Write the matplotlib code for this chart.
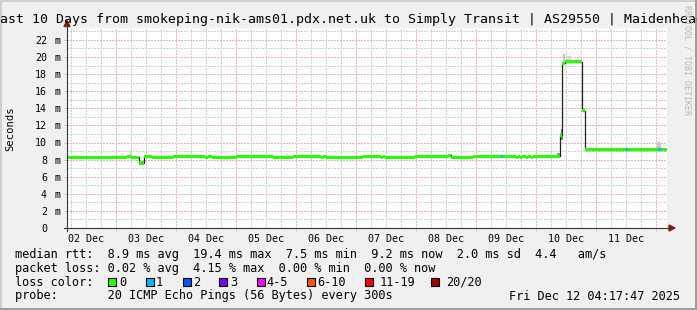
import matplotlib
matplotlib.use('Agg')
import matplotlib.pyplot as plt
import matplotlib.transforms as mtransforms
from matplotlib.patches import Rectangle, Polygon
from matplotlib.lines import Line2D
from matplotlib.ticker import MultipleLocator, FuncFormatter

W, H = 697, 310
MONO = 'DejaVu Sans Mono'
BACK = '#f0f0f0'
SHADEA = '#cfcfcf'
SHADEB = '#9e9e9e'
GRID = '#d0d0d0'
MGRID = '#f0b2b2'
AXIS = '#2c3a36'
ARROW = '#801c1c'

# time axis: hours since 02 Dec 00:00, window is the last 10 days
t_start = 4 + 17 / 60 + 47 / 3600
t_end = t_start + 240

# median rtt as steps: start hour, value (ms), lost pings in that step
seg_start = [4.3, 28.1, 29.9, 33.2, 35.2, 38.4, 46.8, 59.5, 60.8, 62.1,
             71.7, 86.7, 94.7, 105.7, 106.7, 107.7, 122.5, 129.7, 130.6, 131.6,
             143.3, 156.7, 157.7, 166.7, 177.7, 178.5, 184.0, 184.8, 185.6, 186.4,
             187.7, 188.5, 190.0, 190.8, 201.3, 202.1, 203.6, 210.4, 211.5, 227.7,
             228.5, 240.7, 242.0]
seg_ms = [8.28, 8.40, 8.28, 7.60, 8.40, 8.28, 8.40, 8.28, 8.40, 8.28,
          8.40, 8.28, 8.40, 8.28, 8.40, 8.28, 8.40, 8.28, 8.40, 8.28,
          8.40, 8.48, 8.28, 8.40, 8.40, 8.40, 8.28, 8.40, 8.28, 8.40,
          8.28, 8.40, 8.28, 8.40, 10.88, 19.26, 19.42, 13.72, 9.15, 9.15,
          9.15, 9.15, 9.15]
seg_loss = [0, 0, 0, 0, 0, 0, 0, 0, 0, 0,
            0, 0, 0, 0, 0, 0, 0, 0, 0, 0,
            0, 0, 0, 0, 1, 0, 0, 0, 0, 0,
            0, 0, 0, 0, 0, 0, 0, 0, 0, 1,
            0, 1, 0]
seg_last = 244.2

# smoke (spread of the pings) where it shows outside the median band
smoke_t0 = [25.9, 29.4, 91.7, 200.1, 201.7, 202.7, 204.4, 208.0, 235.7, 240.3]
smoke_t1 = [26.8, 30.4, 92.7, 201.3, 202.5, 203.6, 205.7, 210.0, 237.7, 241.7]
smoke_lo = [8.3, 8.3, 8.3, 8.4, 10.3, 19.2, 19.5, 19.4, 9.1, 9.0]
smoke_hi = [8.6, 9.1, 8.7, 8.8, 11.6, 20.4, 20.1, 19.6, 9.3, 10.1]
smoke_shade = ['#d8d8d8', '#cccccc', '#d8d8d8', '#909090', '#7a7a7a',
               '#c8c8c8', '#d4d4d4', '#dcdcdc', '#dcdcdc', '#c8c8c8']

loss_labels = ['0', '1', '2', '3', '4-5', '6-10', '11-19', '20/20']
loss_colors = ['#26ff00', '#00b8ff', '#0059ff', '#7e00ff', '#ff00ff', '#ff5500', '#ff0000', '#a10000']

title = 'Last 10 Days from smokeping-nik-ams01.pdx.net.uk to Simply Transit | AS29550 | Maidenhead'
legend_rows = [
    'median rtt:  8.9 ms avg  19.4 ms max  7.5 ms min  9.2 ms now  2.0 ms sd  4.4   am/s',
    'packet loss: 0.02 % avg  4.15 % max  0.00 % min  0.00 % now',
    'loss color:',
    'probe:       20 ICMP Echo Pings (56 Bytes) every 300s',
]
stamp = 'Fri Dec 12 04:17:47 2025'


def fx(x):
    return x / W


def fy(y):
    return 1 - y / H


fig = plt.figure(figsize=(W / 100, H / 100), dpi=100, facecolor=BACK)
ax = fig.add_axes([67 / W, (H - 228) / H, 600 / W, 200 / H], facecolor='white')
ax.set_xlim(t_start, t_end)
ax.set_ylim(0, 200 / 8.55)
for s in ax.spines.values():
    s.set_visible(False)

# grid
ax.xaxis.set_major_locator(MultipleLocator(24))
ax.xaxis.set_minor_locator(MultipleLocator(6))
ax.yaxis.set_major_locator(MultipleLocator(2))
ax.yaxis.set_minor_locator(MultipleLocator(1))
ax.grid(which='minor', color=GRID, lw=1.0, ls=(0, (1, 1)), antialiased=False)
ax.grid(which='major', color=MGRID, lw=1.0, ls=(0, (1, 1)), antialiased=False)
ax.set_axisbelow(True)

ax.xaxis.set_major_formatter(FuncFormatter(lambda v, p: ''))
ax.xaxis.set_minor_formatter(FuncFormatter(
    lambda v, p: '%02d Dec' % (int(v // 24) + 2) if round(v) % 24 == 12 else ''))
ax.tick_params(axis='x', which='major', length=2.2, width=0.72, color=MGRID)
ax.tick_params(axis='x', which='minor', length=0, pad=4.0, labelsize=7.2)
ax.tick_params(axis='y', which='major', length=2.2, width=0.72, color=MGRID,
               pad=12.2, labelsize=7.2)
ax.tick_params(axis='y', which='minor', length=0)
ax.set_yticks(range(0, 23, 2))
ax.set_yticklabels([str(v) for v in range(0, 23, 2)])
for lab in ax.get_xticklabels(minor=True) + ax.get_yticklabels():
    lab.set_family(MONO)
unit_tr = mtransforms.blended_transform_factory(ax.transAxes, ax.transData)
for v in range(2, 23, 2):
    ax.text(-12.5 / 600, v, 'm', transform=unit_tr, ha='left', va='center_baseline',
            fontsize=7.2, family=MONO, clip_on=False)

# smoke
ax.bar(smoke_t0, [h - l for h, l in zip(smoke_hi, smoke_lo)], bottom=smoke_lo,
       width=[b - a for a, b in zip(smoke_t0, smoke_t1)], align='edge',
       color=smoke_shade, lw=0, zorder=2)

# median line + loss coloured band
ax.step(seg_start + [seg_last], seg_ms + [seg_ms[-1]], where='post',
        color='#202020', lw=0.9, zorder=3)
band = 0.36
widths = [b - a for a, b in zip(seg_start, seg_start[1:] + [seg_last])]
ax.bar(seg_start, band, bottom=[m - band / 2 for m in seg_ms], width=widths,
       align='edge', color=[loss_colors[l] for l in seg_loss], lw=0, zorder=4)

# axes with arrows
fig.add_artist(Line2D([fx(64), fx(670)], [fy(228)] * 2, color=AXIS, lw=0.8))
fig.add_artist(Line2D([fx(67), fx(67)], [fy(231), fy(24)], color=AXIS, lw=0.8))
fig.add_artist(Polygon([(fx(669), fy(225)), (fx(675), fy(228)), (fx(669), fy(231))],
                       closed=True, color=ARROW, transform=fig.transFigure))
fig.add_artist(Polygon([(fx(64), fy(26.5)), (fx(67), fy(20.5)), (fx(70), fy(26.5))],
                       closed=True, color=ARROW, transform=fig.transFigure))

# image border
for x0, y0, w, h, c in [(0, 0, W, 2, SHADEA), (0, 0, 2, H, SHADEA),
                        (0, H - 2, W, 2, SHADEB), (W - 2, 0, 2, H, SHADEB)]:
    fig.add_artist(Rectangle((fx(x0), fy(y0 + h)), w / W, h / H, color=c,
                             lw=0, transform=fig.transFigure))

# texts
fig.text(fx(348.5), fy(23.3), title, ha='center', va='baseline', family=MONO, fontsize=9.53)
fig.text(fx(10), fy(129), 'Seconds', rotation=90, ha='center', va='center',
         family=MONO, fontsize=7.6)
fig.text(fx(687), fy(5), 'RRDTOOL / TOBI OETIKER', rotation=270, ha='center', va='top',
         family=MONO, fontsize=6, color='#b8b8b8')

for row, base in zip(legend_rows, [258, 272, 285.8, 299.5]):
    fig.text(fx(15), fy(base), row, ha='left', va='baseline', family=MONO, fontsize=8.6)
fig.text(fx(680), fy(299.5), stamp, ha='right', va='baseline', family=MONO, fontsize=8.6)

sw_x = [108, 145.7, 182.7, 219.3, 256.7, 307.3, 365, 430.7]
lab_x = [119, 155.7, 192.7, 230, 266.7, 317.5, 380, 445.7]
for sx, lx, lab, col in zip(sw_x, lab_x, loss_labels, loss_colors):
    fig.add_artist(Rectangle((fx(sx), fy(286.2)), 8 / W, 8 / H, facecolor=col,
                             edgecolor='black', lw=0.8, transform=fig.transFigure))
    fig.text(fx(lx), fy(285.8), lab, ha='left', va='baseline', family=MONO, fontsize=8.6)

fig.savefig('out.png', dpi=100, facecolor=BACK)
